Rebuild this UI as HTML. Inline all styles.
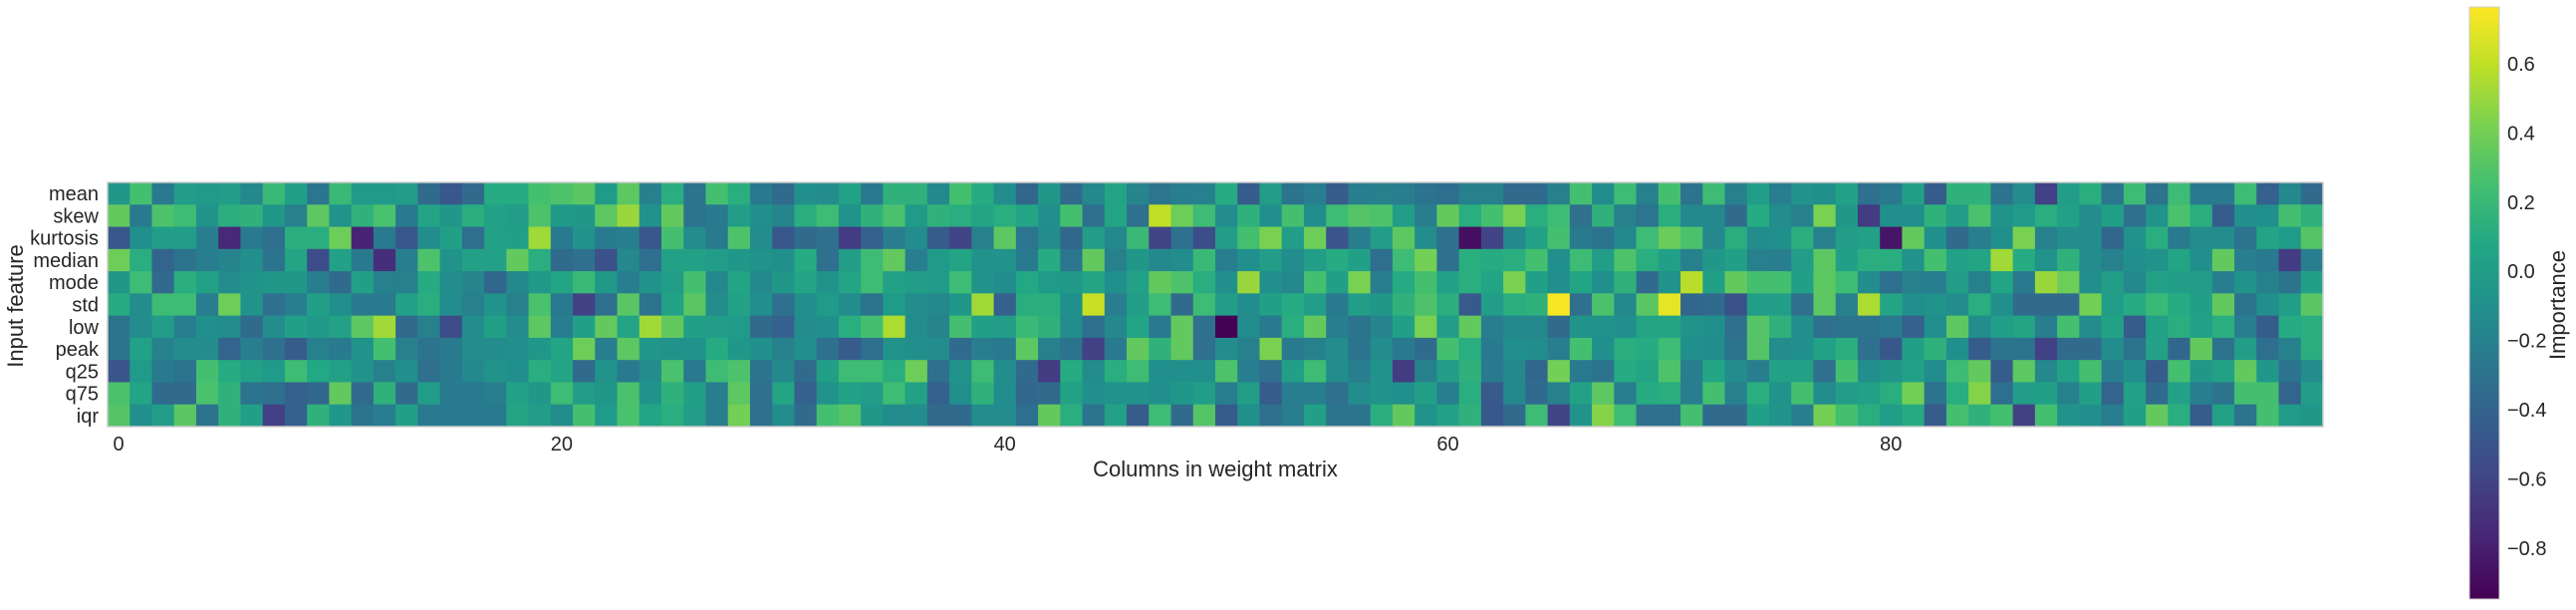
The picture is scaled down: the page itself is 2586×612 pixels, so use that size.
<!DOCTYPE html>
<html><head><meta charset="utf-8"><style>
html,body{margin:0;padding:0;background:#fff;}
svg{display:block;font-family:"Liberation Sans",Arial,sans-serif;}
</style></head><body>
<svg id="chart" width="2586" height="612" viewBox="0 0 2586 612" xmlns="http://www.w3.org/2000/svg">
<defs>
<linearGradient id="vir" x1="0" y1="1" x2="0" y2="0">
<stop offset="0" stop-color="#440154"/><stop offset="0.1" stop-color="#482475"/><stop offset="0.2" stop-color="#414487"/><stop offset="0.3" stop-color="#355f8d"/><stop offset="0.4" stop-color="#2a788e"/><stop offset="0.5" stop-color="#21918c"/><stop offset="0.6" stop-color="#22a884"/><stop offset="0.7" stop-color="#44bf70"/><stop offset="0.8" stop-color="#7ad151"/><stop offset="0.9" stop-color="#bddf26"/><stop offset="1" stop-color="#fde725"/>
</linearGradient>
</defs>
<g id="cells"></g>
<rect x="108" y="183" width="2224" height="245" fill="none" stroke="#cccccc" stroke-width="1.5"/>
<g id="ylabels"></g>
<g id="xlabels"></g>
<text transform="translate(23,307) rotate(-90)" text-anchor="middle" font-size="22" fill="#262626">Input feature</text>
<text x="1220" y="478" text-anchor="middle" font-size="22" fill="#262626">Columns in weight matrix</text>
<rect x="2479" y="7" width="30" height="594" fill="url(#vir)" stroke="#cccccc" stroke-width="1"/>
<g id="cblabels"></g>
<text transform="translate(2575,306) rotate(-90)" text-anchor="middle" font-size="22" fill="#262626">Importance</text>
</svg>
<script>
const features = ["mean","skew","kurtosis","median","mode","std","low","peak","q25","q75","iqr"];
const xTicks = [0,20,40,60,80];
const cbTicks = [-0.8,-0.6,-0.4,-0.2,0.0,0.2,0.4,0.6];
const vMin = -0.947, vMax = 0.764;
const rowMean = [-0.05,0.25,-0.25,0,-0.02,0,-0.15,0.2,0.02,-0.28,0.2,-0.02,-0.02,0,-0.35,-0.48,-0.35,0.1,0.1,0.25,0.28,0.32,-0.02,0.33,-0.2,
0.12,-0.3,0.25,0.12,-0.25,-0.35,-0.1,-0.12,0.03,-0.25,0.15,0.15,-0.15,0.25,0.1,-0.12,-0.38,-0.05,-0.35,-0.15,0.05,-0.18,-0.28,-0.22,-0.2,
0.1,-0.45,0.0,-0.3,-0.22,-0.45,-0.22,-0.2,-0.22,-0.3,-0.33,-0.2,-0.2,-0.35,-0.35,-0.2,0.25,-0.12,0.22,-0.2,0.25,-0.3,0.22,-0.2,0.0,
-0.22,-0.08,-0.1,0.03,-0.32,-0.25,0.02,-0.45,0.15,0.15,-0.3,-0.12,-0.62,0.0,0.12,-0.28,0.22,-0.3,0.22,-0.25,-0.25,0.22,-0.42,-0.15,-0.35];
const rowSkew = [0.35,-0.25,0.28,0.22,-0.08,0.12,0.15,-0.05,-0.2,0.33,-0.08,0.15,0.27,-0.25,0.05,-0.05,0.12,0.03,0.0,0.28,-0.03,-0.05,0.33,0.5,-0.08,
0.35,-0.3,-0.25,0.0,-0.1,-0.18,0.12,0.22,-0.08,0.15,0.27,-0.02,0.15,0.12,0.05,0.12,0.05,-0.1,0.25,-0.32,0.05,-0.32,0.6,0.38,0.22,
-0.12,0.15,-0.1,0.25,-0.12,0.22,0.3,0.28,0.0,-0.22,0.35,0.12,0.25,0.42,0.12,0.22,-0.32,0.15,-0.2,-0.28,0.12,-0.15,-0.15,-0.35,0.1,
-0.12,-0.2,0.42,-0.05,-0.65,-0.1,-0.1,0.15,0.0,0.27,-0.08,-0.02,0.12,0.03,-0.12,0.02,-0.32,-0.08,0.27,0.12,-0.45,-0.1,-0.1,0.25,0.15];
const rowKurtosis = [-0.48,-0.1,0,0,-0.22,-0.75,-0.25,-0.32,0.12,0.12,0.38,-0.78,-0.25,-0.48,-0.12,0.02,-0.33,0.03,0.02,0.52,-0.25,-0.08,-0.25,-0.22,-0.48,
0.25,-0.12,-0.25,0.28,-0.12,-0.48,-0.35,-0.32,-0.65,-0.42,-0.22,-0.12,-0.45,-0.6,-0.2,0.33,-0.28,-0.12,-0.38,0.0,-0.15,0.2,-0.6,-0.32,-0.55,
0.0,0.25,0.42,0.0,0.38,-0.5,-0.22,0.0,0.33,-0.12,-0.32,-0.88,-0.6,-0.15,0.03,0.25,-0.25,-0.3,-0.15,0.22,0.37,0.27,-0.15,0.12,-0.12,
-0.1,0.12,-0.2,0.0,0.03,-0.85,0.35,-0.1,-0.35,-0.22,-0.1,0.42,-0.2,-0.12,-0.12,-0.38,-0.08,0.12,-0.25,-0.12,-0.12,-0.3,0.05,-0.02,0.3];
const rowMedian = [0.38,0.12,-0.4,-0.3,-0.22,-0.18,-0.1,-0.3,0.05,-0.55,0.03,-0.25,-0.72,-0.22,0.28,-0.08,0.03,0.03,0.35,0.12,-0.35,-0.32,-0.52,-0.15,-0.33,
0.03,0.03,0.0,-0.05,-0.08,-0.1,0.1,-0.32,0.0,0.22,0.35,-0.22,-0.02,0.05,-0.08,-0.08,-0.25,0.1,-0.28,0.35,-0.2,-0.05,-0.15,-0.12,0.2,
-0.22,-0.1,0.0,-0.12,0.0,0.1,0.02,-0.33,0.22,0.4,-0.32,0.12,0.1,0.12,0.25,-0.1,0.22,0.0,0.28,0.12,0.02,-0.2,-0.05,0.02,-0.2,
-0.22,0.0,0.33,0.02,0.12,0.12,-0.08,0.25,0.03,0.05,0.52,0.1,-0.08,0.15,-0.12,-0.2,-0.1,-0.08,0.05,-0.1,0.35,-0.22,-0.25,-0.65,-0.22];
const rowMode = [-0.05,0.22,-0.35,0.12,0.03,-0.12,-0.08,-0.05,-0.05,-0.22,-0.35,0.02,-0.2,-0.2,0.1,-0.12,-0.18,-0.38,-0.15,-0.03,0.05,0.2,-0.03,-0.22,-0.08,
0.0,0.25,-0.15,0.05,-0.15,-0.05,0.05,-0.08,0.05,0.22,0.03,0.0,-0.02,0.22,-0.08,-0.12,0.08,-0.02,-0.03,0.05,-0.1,0.03,0.35,0.28,0.12,
-0.1,0.5,-0.1,-0.15,0.25,0.02,0.42,-0.22,0.1,0.25,0.03,0.12,0.05,0.42,0.02,-0.1,0.05,-0.1,0.15,-0.35,-0.08,0.58,0.02,0.35,0.25,
0.25,0.02,0.33,0.22,-0.12,-0.33,-0.2,-0.22,0.0,-0.2,0.05,-0.25,0.5,0.38,-0.1,0.0,-0.15,0.03,0.0,0.0,-0.22,-0.08,-0.2,-0.3,0.02];
const rowStd = [0.1,-0.12,0.22,0.22,-0.22,0.38,-0.08,-0.32,-0.22,0.02,-0.1,-0.25,-0.25,0.03,0.12,-0.12,-0.2,-0.08,-0.2,0.27,-0.25,-0.62,-0.33,0.32,-0.3,
0.03,0.32,-0.12,0.03,-0.1,-0.32,-0.1,-0.02,-0.12,-0.3,-0.02,-0.12,-0.15,-0.05,0.52,-0.42,0.12,0.12,-0.1,0.62,-0.22,0.0,0.22,-0.35,0.22,
0.0,-0.12,0.02,0.1,0.0,-0.25,0.0,-0.05,0.15,0.28,0.12,-0.47,0.0,0.12,0.15,0.75,-0.32,0.27,-0.15,0.32,0.7,-0.38,-0.35,-0.52,0.0,
0.0,-0.32,0.33,-0.2,0.55,0.05,-0.1,-0.08,-0.12,0.12,-0.1,-0.35,-0.35,-0.35,0.4,0.0,0.1,0.2,0.1,0.02,0.35,-0.3,-0.1,0.0,0.32];
const rowLow = [-0.3,-0.12,0.0,-0.22,-0.1,-0.12,-0.35,-0.12,0.02,-0.03,0.03,0.33,0.52,-0.35,-0.2,-0.55,-0.12,0.02,-0.12,0.33,-0.22,0.02,0.35,0.05,0.52,
0.35,0.02,0.0,-0.02,-0.35,-0.42,-0.12,-0.1,0.12,0.25,0.55,-0.12,-0.18,0.25,0.02,0.0,0.2,0.15,-0.12,-0.33,-0.15,0.05,-0.25,0.35,-0.32,
-0.95,-0.12,-0.25,0.12,0.35,-0.22,-0.3,-0.18,0.02,0.42,0.0,0.35,-0.22,-0.15,-0.15,-0.35,-0.08,-0.08,-0.1,0.05,0.05,-0.08,-0.1,-0.32,0.3,
0.15,-0.1,-0.32,-0.3,-0.3,-0.25,-0.42,-0.1,0.33,-0.12,0.0,0.05,-0.22,0.25,-0.12,0.03,-0.45,0.03,0.12,0.03,0.12,-0.22,-0.45,0.1,0.12];
const rowPeak = [-0.3,0.03,-0.2,-0.12,-0.12,-0.4,-0.22,-0.32,-0.45,-0.2,-0.25,-0.08,0.25,-0.2,-0.3,-0.25,-0.12,-0.12,-0.1,-0.05,0.05,0.38,-0.22,0.33,-0.05,
-0.08,-0.08,0.1,-0.05,-0.1,-0.2,-0.1,-0.32,-0.45,-0.33,-0.08,-0.1,-0.12,-0.35,-0.22,-0.25,0.33,-0.2,-0.3,-0.62,-0.25,0.35,0.15,0.35,-0.32,
-0.12,-0.2,0.42,-0.25,-0.2,-0.12,-0.3,-0.12,-0.25,-0.35,0.25,0.12,-0.25,-0.1,-0.12,-0.22,0.25,-0.1,0.12,0.1,0.22,-0.1,-0.12,-0.3,0.3,
-0.12,-0.1,0.03,0.12,-0.32,-0.48,0.02,0.15,-0.1,-0.45,-0.3,-0.3,-0.62,-0.35,-0.35,-0.12,-0.3,0.03,-0.38,0.35,-0.3,0.0,-0.33,-0.2,0.12];
const rowQ25 = [-0.5,-0.02,-0.25,-0.3,0.25,0.1,0.03,-0.02,0.22,0.08,0.03,-0.08,-0.2,-0.1,-0.32,-0.25,-0.15,-0.08,-0.1,0.12,0.05,-0.35,-0.08,-0.25,-0.12,
0.27,-0.25,0.22,0.28,-0.3,-0.15,-0.35,0.02,0.22,0.22,0.12,0.38,-0.32,-0.08,0.22,-0.12,-0.35,-0.65,0.1,-0.12,0.12,0.22,-0.1,-0.1,-0.1,
0.28,-0.22,-0.32,0.02,0.22,-0.12,-0.22,-0.08,-0.65,-0.2,0.0,0.15,-0.25,-0.15,-0.38,0.4,-0.25,-0.3,0.1,0.05,0.28,-0.22,0.05,-0.12,-0.22,
0.03,0.03,-0.32,0.25,-0.1,-0.05,0.03,-0.12,0.22,0.35,-0.45,0.33,-0.15,0.03,0.25,-0.22,-0.1,-0.45,0.25,-0.05,0.03,0.35,-0.05,-0.3,-0.12];
const rowQ75 = [0.27,0.05,-0.35,-0.35,0.27,0.15,-0.3,-0.32,-0.42,-0.38,0.35,-0.35,0.15,-0.35,0.0,-0.25,-0.25,-0.22,0.03,-0.05,0.22,0.0,-0.05,0.27,-0.08,
0.15,0.02,-0.22,0.33,-0.32,0.05,-0.42,-0.08,0.03,0.0,0.22,0.03,-0.42,-0.1,0.15,-0.12,-0.38,-0.35,0.03,-0.1,-0.08,-0.08,-0.1,-0.05,0.0,
-0.22,0.0,-0.45,-0.22,-0.22,-0.32,-0.12,-0.08,-0.1,0.02,-0.22,0.12,-0.47,-0.15,-0.35,-0.2,0.03,0.33,-0.22,0.1,0.12,-0.22,0.25,-0.2,0.12,
-0.08,0.25,-0.12,0.0,0.03,0.12,0.4,-0.3,0.12,0.45,-0.33,0.0,0.02,-0.2,0.02,-0.4,0.03,-0.35,0.03,-0.22,-0.3,0.25,0.25,-0.4,0.0];
const rowIqr = [0.3,-0.1,0.0,0.32,-0.3,0.15,0.02,-0.62,-0.42,0.15,-0.05,-0.3,-0.22,0.02,-0.25,-0.25,-0.25,-0.25,0.05,0.0,-0.12,0.25,-0.02,0.27,0.05,
0.12,0.0,-0.22,0.4,-0.32,-0.12,-0.35,0.25,0.3,-0.05,-0.12,-0.12,-0.35,-0.35,-0.12,-0.12,-0.33,0.35,0.12,-0.3,0.03,-0.45,0.22,-0.35,0.3,
-0.45,-0.1,-0.32,-0.22,0.02,-0.3,-0.3,0.12,0.35,-0.08,0.03,0.15,-0.48,-0.35,0.22,-0.6,-0.08,0.45,0.22,-0.32,-0.32,0.25,-0.35,-0.35,0.02,
-0.08,-0.22,0.4,0.25,0.12,0.0,0.1,-0.45,0.25,0.15,0.25,-0.62,0.25,-0.08,-0.1,-0.22,0.02,0.35,0.12,-0.45,0.03,-0.3,0.25,-0.02,-0.05];
const matrix = [rowMean,rowSkew,rowKurtosis,rowMedian,rowMode,rowStd,rowLow,rowPeak,rowQ25,rowQ75,rowIqr];

const NS = "http://www.w3.org/2000/svg";
const X0 = 108, Y0 = 183, W = 2224, H = 245;
const nCols = 100;
const cw = W / nCols, ch = H / features.length;
const xScale = i => X0 + i * cw;
const yScale = r => Y0 + r * ch;
const cbTop = 7, cbBot = 601;
const cbScale = v => cbBot - (v - vMin) / (vMax - vMin) * (cbBot - cbTop);
const stops = ["#440154","#482475","#414487","#355f8d","#2a788e","#21918c","#22a884","#44bf70","#7ad151","#bddf26","#fde725"].map(h=>[parseInt(h.slice(1,3),16),parseInt(h.slice(3,5),16),parseInt(h.slice(5,7),16)]);
function viridis(v){
  let f = (v - vMin) / (vMax - vMin); f = Math.max(0, Math.min(1, f));
  const p = f * 10, i = Math.min(9, Math.floor(p)), t = p - i;
  const a = stops[i], b = stops[i+1];
  return "rgb(" + [0,1,2].map(k => Math.round(a[k] + (b[k]-a[k]) * t)).join(",") + ")";
}
const cells = document.getElementById("cells");
matrix.forEach((row, r) => {
  row.forEach((v, c) => {
    const el = document.createElementNS(NS, "rect");
    el.setAttribute("x", xScale(c).toFixed(2));
    el.setAttribute("y", yScale(r).toFixed(2));
    el.setAttribute("width", (cw + 0.5).toFixed(2));
    el.setAttribute("height", (ch + 0.5).toFixed(2));
    el.setAttribute("fill", viridis(v));
    
    
    cells.appendChild(el);
  });
});
const yl = document.getElementById("ylabels");
features.forEach((f, r) => {
  const t = document.createElementNS(NS, "text");
  t.setAttribute("x", 99);
  t.setAttribute("y", (yScale(r) + ch / 2 + 7).toFixed(1));
  t.setAttribute("text-anchor", "end");
  t.setAttribute("font-size", "20");
  t.setAttribute("fill", "#262626");
  t.textContent = f;
  
  
  yl.appendChild(t);
});
const xl = document.getElementById("xlabels");
xTicks.forEach(v => {
  const t = document.createElementNS(NS, "text");
  t.setAttribute("x", (xScale(v) + cw / 2).toFixed(1));
  t.setAttribute("y", 452);
  t.setAttribute("text-anchor", "middle");
  t.setAttribute("font-size", "20");
  t.setAttribute("fill", "#262626");
  t.textContent = String(v);
  
  
  xl.appendChild(t);
});
const cl = document.getElementById("cblabels");
cbTicks.forEach(v => {
  const t = document.createElementNS(NS, "text");
  t.setAttribute("x", 2517);
  t.setAttribute("y", (cbScale(v) + 7).toFixed(1));
  t.setAttribute("font-size", "20");
  t.setAttribute("fill", "#262626");
  t.textContent = (v < 0 ? "\u2212" : "") + Math.abs(v).toFixed(1);
  
  
  cl.appendChild(t);
});
</script>
</body></html>
